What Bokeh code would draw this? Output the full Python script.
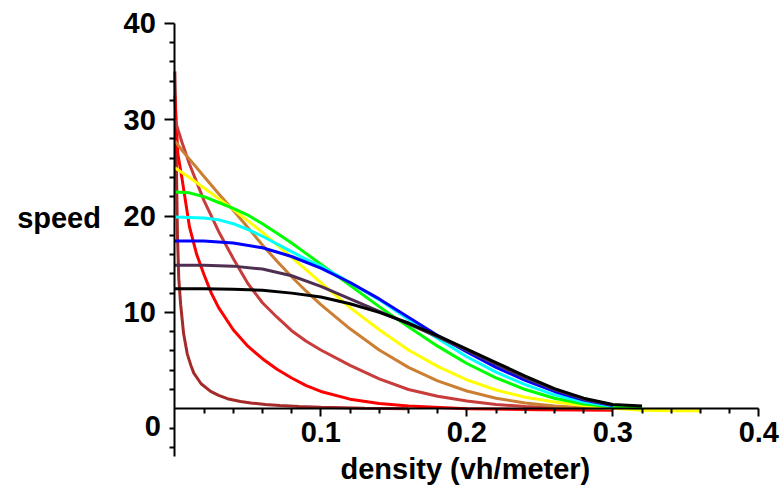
from bokeh.plotting import figure
from bokeh.models import Range1d, FixedTicker, LinearAxis
from bokeh.core.properties import value
from bokeh.embed import file_html
from bokeh.resources import INLINE

# ---- data: density (vh/meter) -> speed ----
brown_k = [0, 0.0005, 0.001, 0.0018, 0.0027, 0.004, 0.006, 0.0085, 0.011, 0.013, 0.018,
           0.0245, 0.03, 0.036, 0.045, 0.052, 0.062, 0.072, 0.085, 0.10, 0.13, 0.16]
brown_v = [35.0, 31.0, 26.0, 18.0, 13.5, 10.8, 7.8, 5.7, 4.5, 3.7, 2.6,
           1.8, 1.4, 1.05, 0.75, 0.6, 0.45, 0.34, 0.24, 0.15, 0.05, 0.0]

red_k = [0, 0.002, 0.005, 0.01, 0.015, 0.02, 0.025, 0.03, 0.04, 0.05, 0.06, 0.07,
         0.08, 0.09, 0.10, 0.12, 0.14, 0.16, 0.20, 0.25, 0.30]
red_v = [32.5, 26.5, 23.8, 18.9, 16.0, 13.9, 12.0, 10.5, 8.2, 6.5, 5.2, 4.1,
         3.2, 2.4, 1.8, 1.0, 0.55, 0.3, 0.0, -0.1, -0.15]

indianred_k = [0, 0.005, 0.01, 0.02, 0.03, 0.04, 0.05, 0.06, 0.07, 0.08, 0.09, 0.10,
               0.12, 0.14, 0.16, 0.18, 0.20, 0.22, 0.24, 0.26, 0.28, 0.30]
indianred_v = [30.0, 27.6, 25.4, 21.6, 18.4, 15.6, 13.0, 11.0, 9.5, 8.1, 7.0, 6.1,
               4.5, 3.1, 2.0, 1.3, 0.8, 0.45, 0.25, 0.12, 0.05, 0.0]

gold_k = [0, 0.005, 0.01, 0.02, 0.03, 0.04, 0.05, 0.06, 0.07, 0.08, 0.09, 0.10,
          0.12, 0.14, 0.16, 0.18, 0.20, 0.22, 0.24, 0.26, 0.28, 0.30]
gold_v = [27.8, 26.8, 25.9, 24.1, 22.3, 20.6, 18.8, 17.0, 15.3, 13.7, 12.2, 10.8,
          8.3, 6.1, 4.3, 2.9, 1.85, 1.1, 0.6, 0.3, 0.12, 0.03]

yellow_k = [0, 0.01, 0.02, 0.03, 0.04, 0.05, 0.06, 0.07, 0.08, 0.09, 0.10, 0.12,
            0.14, 0.16, 0.18, 0.20, 0.22, 0.24, 0.26, 0.28, 0.30, 0.32, 0.34, 0.36]
yellow_v = [25.0, 24.0, 22.9, 21.8, 20.7, 19.5, 18.3, 17.0, 15.7, 14.4, 13.1, 10.5,
            8.2, 6.1, 4.4, 3.0, 1.95, 1.2, 0.7, 0.35, 0.05, -0.15, -0.2, -0.2]

green_k = [0, 0.01, 0.02, 0.03, 0.04, 0.05, 0.06, 0.07, 0.08, 0.09, 0.10, 0.12,
           0.14, 0.16, 0.18, 0.20, 0.22, 0.24, 0.26, 0.28, 0.30, 0.32]
green_v = [22.5, 22.4, 22.0, 21.4, 20.8, 20.1, 19.2, 18.2, 17.2, 16.1, 15.0, 12.8,
           10.6, 8.5, 6.5, 4.7, 3.2, 2.0, 1.1, 0.5, 0.2, 0.05]

cyan_k = [0, 0.02, 0.03, 0.04, 0.05, 0.06, 0.07, 0.08, 0.09, 0.10, 0.12, 0.14,
          0.16, 0.18, 0.20, 0.22, 0.24, 0.26, 0.28, 0.30]
cyan_v = [19.9, 19.8, 19.6, 19.2, 18.6, 17.9, 17.1, 16.3, 15.5, 14.8, 13.1, 11.3,
          9.3, 7.3, 5.4, 3.8, 2.5, 1.45, 0.7, 0.25]

blue_k = [0, 0.02, 0.04, 0.06, 0.08, 0.10, 0.12, 0.14, 0.16, 0.18, 0.20, 0.22,
          0.24, 0.26, 0.28, 0.30]
blue_v = [17.4, 17.4, 17.2, 16.7, 15.8, 14.6, 13.1, 11.4, 9.5, 7.6, 5.9, 4.3,
          2.95, 1.8, 0.9, 0.35]

violet_k = [0, 0.02, 0.04, 0.06, 0.08, 0.10, 0.12, 0.14, 0.16, 0.18, 0.20, 0.22,
            0.24, 0.26, 0.28, 0.30]
violet_v = [14.9, 14.9, 14.8, 14.5, 13.8, 12.7, 11.4, 10.1, 8.8, 7.45, 6.05, 4.6,
            3.2, 2.0, 1.0, 0.4]

black_k = [0, 0.02, 0.04, 0.06, 0.08, 0.10, 0.12, 0.14, 0.16, 0.18, 0.20, 0.22,
           0.24, 0.26, 0.28, 0.30, 0.32]
black_v = [12.45, 12.45, 12.4, 12.3, 12.0, 11.6, 10.9, 10.0, 8.9, 7.6, 6.2, 4.8,
           3.4, 2.1, 1.1, 0.45, 0.3]

series = [
    (brown_k, brown_v, "#A52A2A"),
    (red_k, red_v, "#FF0000"),
    (indianred_k, indianred_v, "#C83C3C"),
    (gold_k, gold_v, "#CC7F32"),
    (yellow_k, yellow_v, "#FFFF00"),
    (green_k, green_v, "#00FF00"),
    (cyan_k, cyan_v, "#00FFFF"),
    (blue_k, blue_v, "#0000FF"),
    (violet_k, violet_v, "#4F2F4F"),
    (black_k, black_v, "#000000"),
]

x_ticks = [0.1, 0.2, 0.3, 0.4]
x_tick_labels = ["0.1", "0.2", "0.3", "0.4"]
x_minor = [0.02, 0.04, 0.06, 0.08, 0.12, 0.14, 0.16, 0.18, 0.22, 0.24, 0.26, 0.28,
           0.32, 0.34, 0.36, 0.38]
y_ticks = [10, 20, 30, 40]
y_minor = [-4, -2, 2, 4, 6, 8, 12, 14, 16, 18, 22, 24, 26, 28, 32, 34, 36, 38]

x_title = "density (vh/meter)"
y_title = "speed"
origin_label = "0"

FONT = "Liberation Sans"
FSIZE = "29px"

p = figure(width=782, height=487, output_backend="svg", toolbar_location=None,
           x_range=Range1d(-0.1194, 0.4162), y_range=Range1d(-8.164, 42.355),
           x_axis_location=None, y_axis_location=None,
           min_border_left=0, min_border_right=0,
           min_border_top=0, min_border_bottom=0)
p.xgrid.visible = False
p.ygrid.visible = False
p.outline_line_color = None
p.background_fill_color = "white"
p.border_fill_color = "white"


def style_axis(ax):
    ax.axis_line_width = 2
    ax.axis_line_color = "black"
    ax.major_tick_line_width = 2
    ax.minor_tick_line_width = 2
    ax.major_tick_line_color = "black"
    ax.minor_tick_line_color = "black"
    ax.major_tick_in = 0
    ax.minor_tick_in = 0
    ax.major_label_text_font = FONT
    ax.major_label_text_font_style = "bold"
    ax.major_label_text_font_size = FSIZE
    ax.major_label_text_color = "black"


ya = LinearAxis(fixed_location=0, bounds=(-5, 40),
                ticker=FixedTicker(ticks=y_ticks, minor_ticks=y_minor))
style_axis(ya)
ya.major_tick_out = 10
ya.minor_tick_out = 5
ya.major_label_standoff = 9
p.add_layout(ya, "left")

xa = LinearAxis(fixed_location=0, bounds=(0, 0.4),
                ticker=FixedTicker(ticks=x_ticks, minor_ticks=x_minor),
                major_label_overrides=dict(zip(x_ticks, x_tick_labels)))
style_axis(xa)
xa.major_tick_out = 8
xa.minor_tick_out = 5
xa.major_label_standoff = 5
p.add_layout(xa, "below")

for k, v, c in series:
    p.line(k, v, line_color=c, line_width=3)

txt = dict(text_baseline="alphabetic", text_font=value(FONT), text_font_style="bold",
           text_font_size=FSIZE, text_color="black")
p.text(x=[-0.0095], y=[-1.75], text=[origin_label], text_align="right", **txt)
p.text(x=[-0.0793], y=[19.8], text=[y_title], text_align="center", **txt)
p.text(x=[0.199], y=[-6.2], text=[x_title], text_align="center", **txt)

open("out.html", "w").write(file_html(p, INLINE))
